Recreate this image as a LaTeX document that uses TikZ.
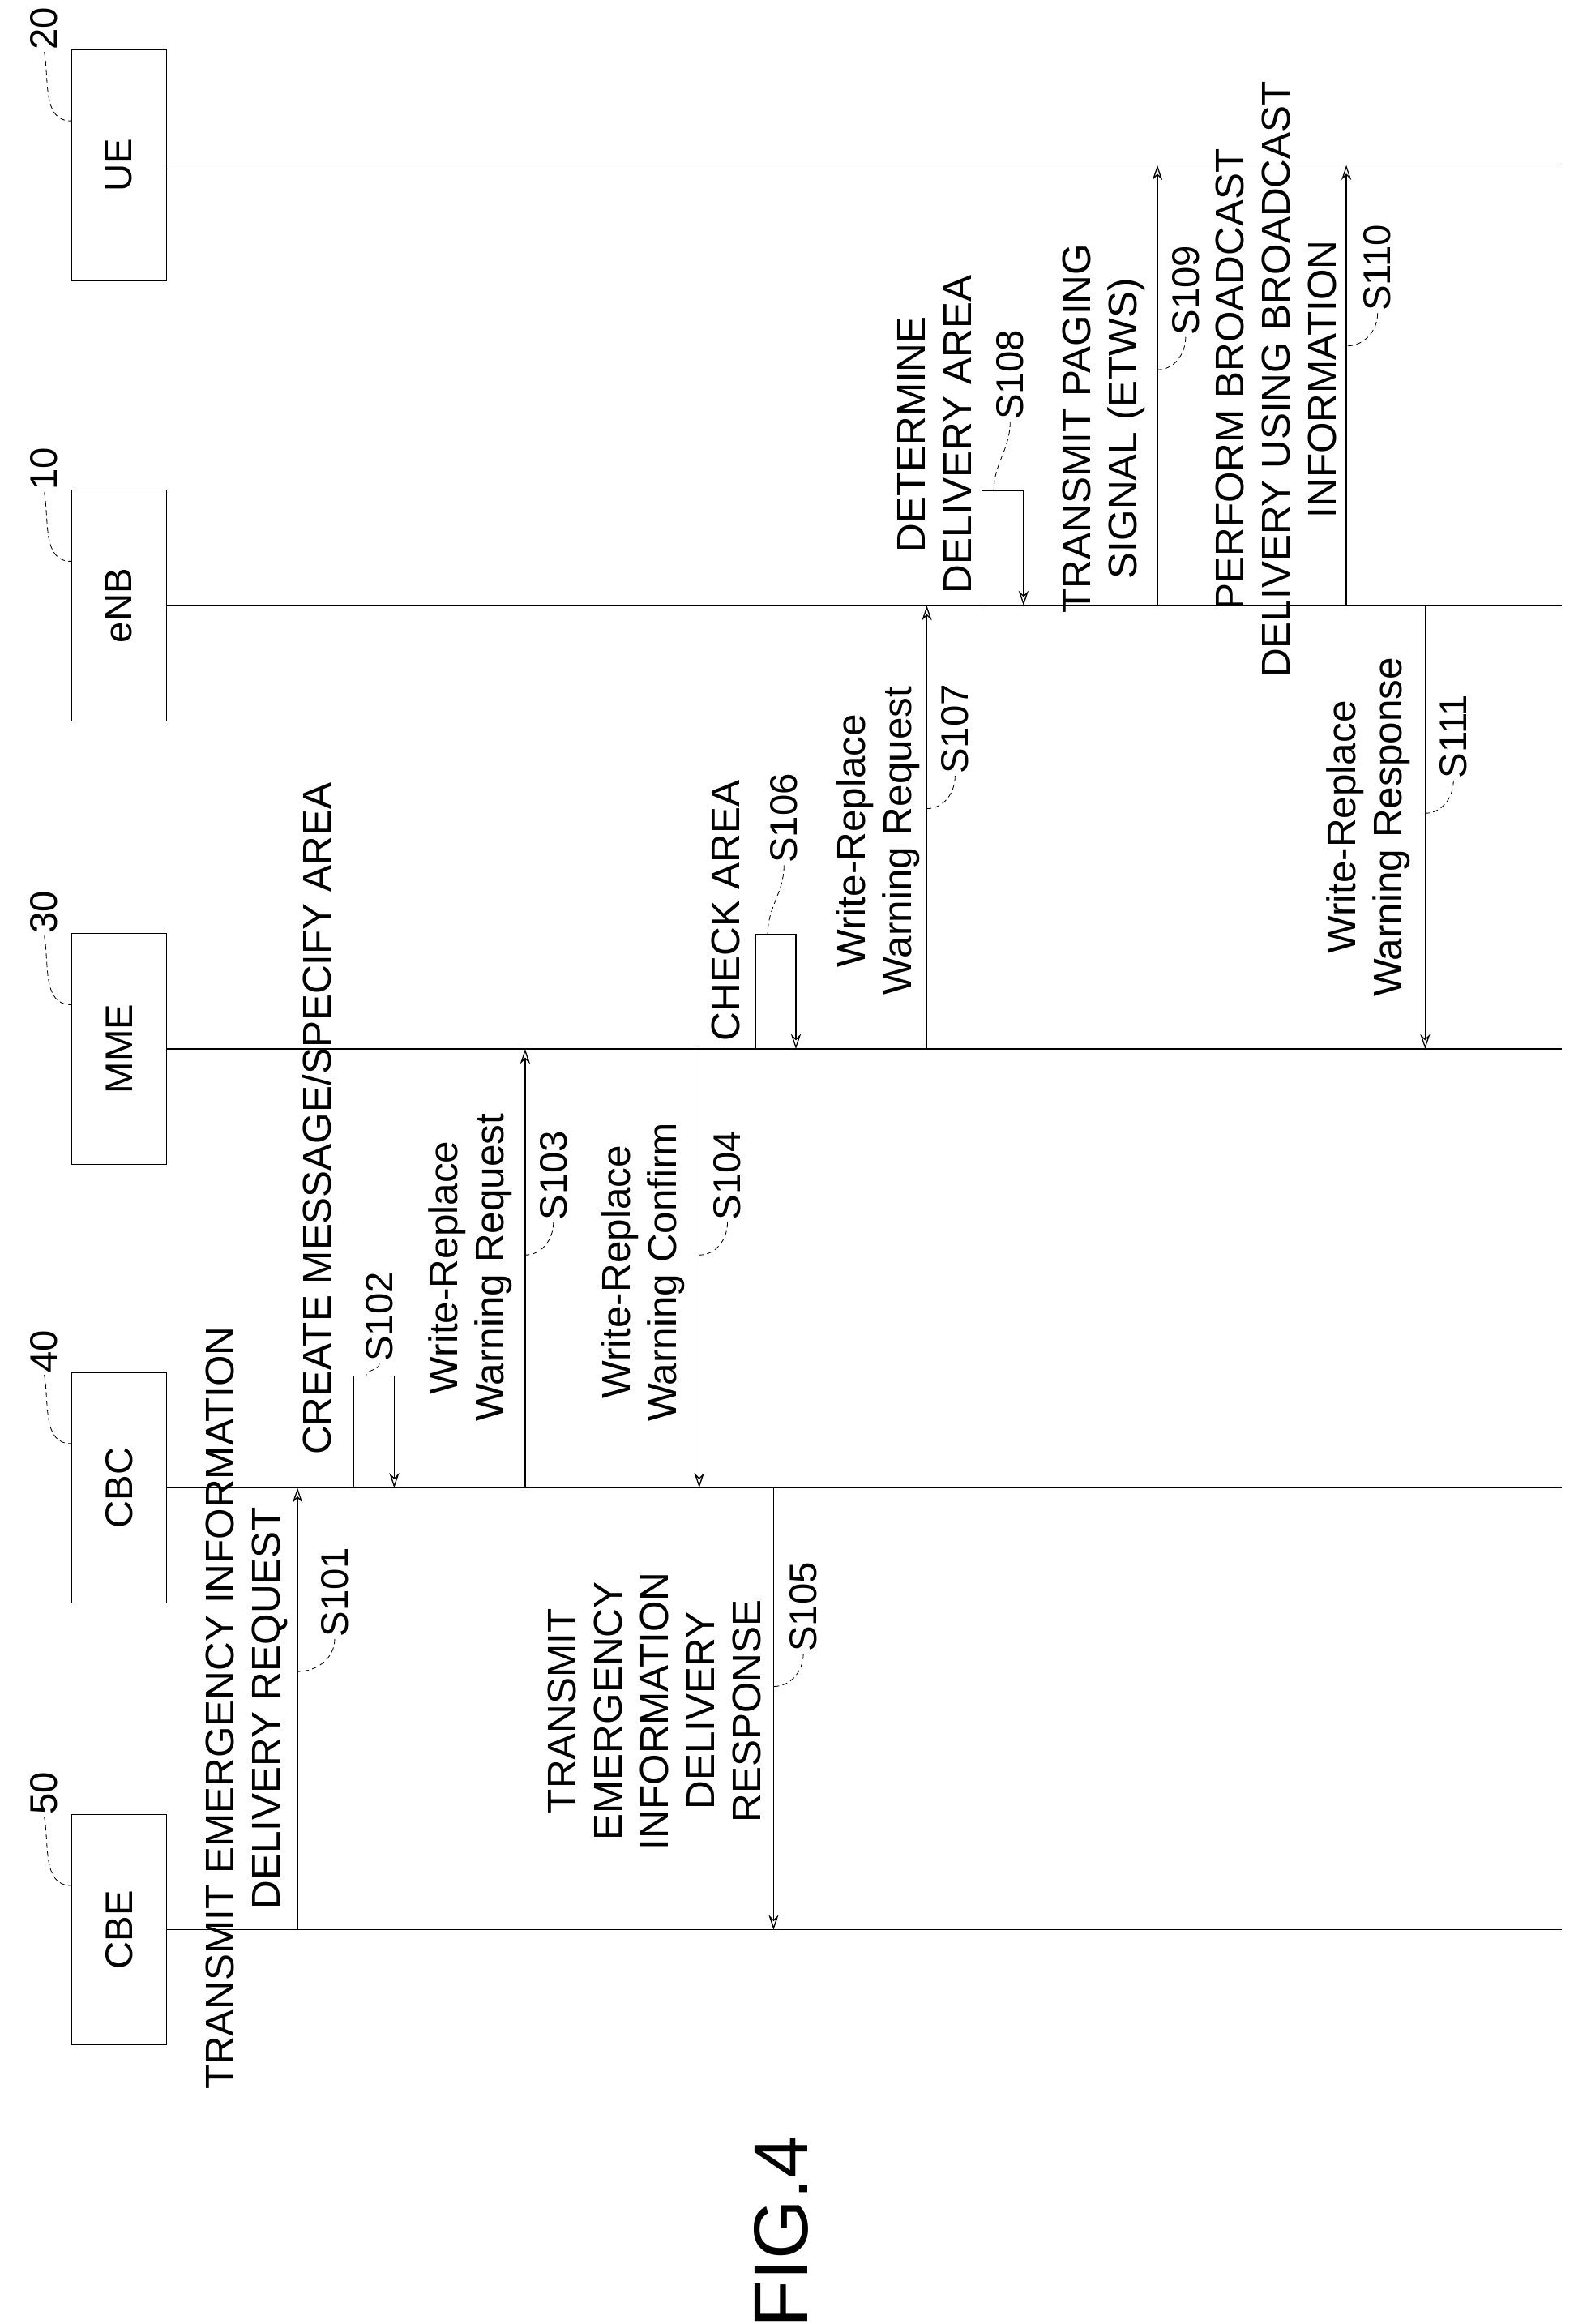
\documentclass[tikz,border=0pt]{standalone}
\usepackage{fontspec}
\setmainfont{Liberation Sans}
\usetikzlibrary{arrows.meta, calc}
\tikzset{
  lifehead/.style={draw, rotate=90, minimum width=4.65cm, minimum height=1.92cm, font=\fontsize{22}{26}\selectfont},
  lifeline/.style={semithick},
  msg/.style={semithick, -{Stealth[open, length=3mm, width=2mm]}},
  msgtext/.style={rotate=90, align=center, font=\fontsize{23}{26.5}\selectfont},
  steplbl/.style={rotate=90, font=\fontsize{22}{26}\selectfont, inner sep=1pt},
  leader/.style={thin, densely dashed}
}
\newcommand{\stepleader}[2]{% label node, arrow coordinate
  \draw[leader] (#1.west) to[out=-90, in=0] ($(#2 |- #1.west)+(0,22)$);}
\begin{document}
\begin{tikzpicture}[x=0.03cm, y=-0.03cm]
\useasboundingbox (0,0) rectangle (1058,1562);
% lifeline heads
\node (ue) [lifehead] at (80,111) {UE};
\node (enb) [lifehead] at (80,407) {eNB};
\node (mme) [lifehead] at (80,705) {MME};
\node (cbc) [lifehead] at (80,1000) {CBC};
\node (cbe) [lifehead] at (80,1297) {CBE};
\foreach \h/\y in {ue/111, enb/407, mme/705, cbc/1000, cbe/1297} {
  \coordinate (\h L) at (0,\y);
  \draw[lifeline] (\h.south) -- (1050,\y);
}
% reference numerals
\foreach \h/\n in {ue/20, enb/10, mme/30, cbc/40, cbe/50} {
  \node (n\h) [steplbl] at ($(\h.north east)+(-18,-14)$) {\n};
  \draw[leader] (n\h.west) to[out=-80, in=180] ($(\h.north east)+(0,48)$);
}
% message positions
\foreach \n/\x in {101/200, 102/238, 103/353, 104/470, 105/520, 106/508, 107/623, 108/660, 109/778, 110/905, 111/958}
  \coordinate (t\n) at (\x,0);
% loop tops
\coordinate (top102) at (246,925);
\coordinate (top106) at (516,628);
\coordinate (top108) at (668,330);
% messages
\draw[msg] (t101 |- cbeL) -- (t101 |- cbcL);
\draw[msg] (t102 |- cbcL) -- ++(0,-75) -- ++(27,0) -- ++(0,75);
\draw[msg] (t103 |- cbcL) -- (t103 |- mmeL);
\draw[msg] (t104 |- mmeL) -- (t104 |- cbcL);
\draw[msg] (t105 |- cbcL) -- (t105 |- cbeL);
\draw[msg] (t106 |- mmeL) -- ++(0,-77) -- ++(27,0) -- ++(0,77);
\draw[msg] (t107 |- mmeL) -- (t107 |- enbL);
\draw[msg] (t108 |- enbL) -- ++(0,-77) -- ++(28,0) -- ++(0,77);
\draw[msg] (t109 |- enbL) -- (t109 |- ueL);
\draw[msg] (t110 |- enbL) -- (t110 |- ueL);
\draw[msg] (t111 |- enbL) -- (t111 |- mmeL);
% message texts
\node (m101) [msgtext] at (166,1148) {TRANSMIT EMERGENCY INFORMATION\\DELIVERY REQUEST};
\node (m102) [msgtext] at (213,752) {CREATE MESSAGE/SPECIFY AREA};
\node (m103) [msgtext] at (316,852) {Write-Replace\\Warning Request};
\node (m104) [msgtext] at (432,855) {Write-Replace\\Warning Confirm};
\node (m105) [msgtext] at (440,1150) {TRANSMIT\\EMERGENCY\\INFORMATION\\DELIVERY\\RESPONSE};
\node (m106) [msgtext] at (488,612) {CHECK AREA};
\node (m107) [msgtext] at (590,565) {Write-Replace\\Warning Request};
\node (m108) [msgtext] at (628,292) {DETERMINE\\DELIVERY AREA};
\node (m109) [msgtext] at (742,288) {TRANSMIT PAGING\\SIGNAL (ETWS)};
\node (m110) [msgtext] at (858,255) {PERFORM BROADCAST\\DELIVERY USING BROADCAST\\INFORMATION};
\node (m111) [msgtext] at (920,556) {Write-Replace\\Warning Response};
% step labels
\foreach \n/\x/\y in {101/225/1070, 102/255/885, 103/372/790, 104/489/790, 105/540/1080, 106/527/550, 107/642/490, 108/679/252, 109/797/195, 110/926/180, 111/977/495} {
  \node (s\n) [steplbl] at (\x,\y) {S\n};
}
\foreach \n in {101,103,104,105,107,109,110,111}
  \stepleader{s\n}{t\n};
\foreach \n in {102,106,108}
  \draw[leader] (s\n.west) to[out=-90, in=90] (top\n);
% figure label
\node (fig) [rotate=90, font=\fontsize{44}{50}\selectfont] at (525,1500) {FIG.4};
\end{tikzpicture}
\end{document}
